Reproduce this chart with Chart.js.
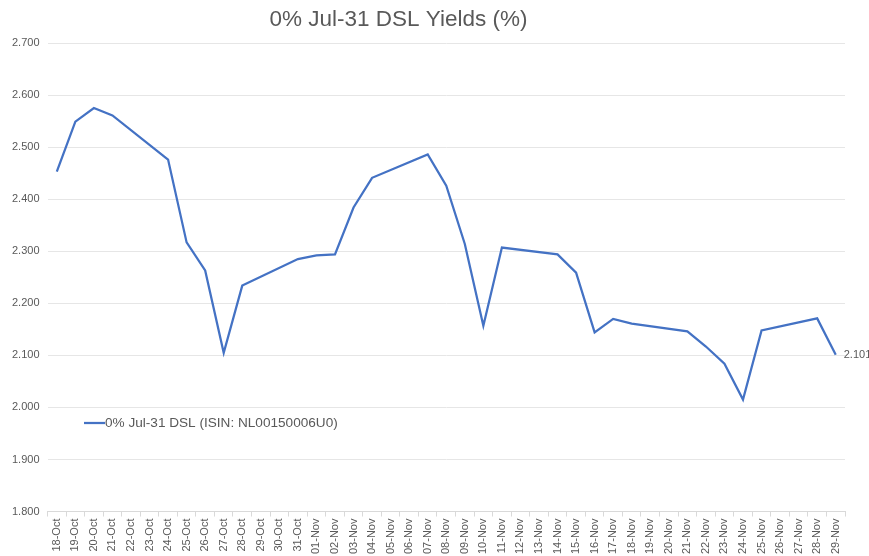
<!DOCTYPE html>
<html>
<head>
<meta charset="utf-8">
<script src="https://cdn.jsdelivr.net/npm/chart.js@4/dist/chart.umd.min.js"></script>
<style>
  html, body { margin: 0; padding: 0; background: #fff; }
  #wrap { width: 869px; height: 556px; position: relative; }
</style>
</head>
<body>
<div id="wrap"><canvas id="c" width="869" height="556"></canvas></div>
<script>
const chartTitle = "0% Jul-31 DSL Yields (%)";
const seriesName = "0% Jul-31 DSL (ISIN: NL00150006U0)";
const categories = [
  "18-Oct","19-Oct","20-Oct","21-Oct","22-Oct","23-Oct","24-Oct","25-Oct","26-Oct","27-Oct",
  "28-Oct","29-Oct","30-Oct","31-Oct","01-Nov","02-Nov","03-Nov","04-Nov","05-Nov","06-Nov",
  "07-Nov","08-Nov","09-Nov","10-Nov","11-Nov","12-Nov","13-Nov","14-Nov","15-Nov","16-Nov",
  "17-Nov","18-Nov","19-Nov","20-Nov","21-Nov","22-Nov","23-Nov","24-Nov","25-Nov","26-Nov",
  "27-Nov","28-Nov","29-Nov"
];
// weekends have no quote (null); line spans the gap
const yields = [
  2.453, 2.549, 2.575, 2.561, null, null, 2.476, 2.317, 2.263, 2.105,
  2.234, null, null, 2.285, 2.292, 2.294, 2.384, 2.441, null, null,
  2.486, 2.426, 2.314, 2.157, 2.307, null, null, 2.294, 2.259, 2.144,
  2.170, 2.161, null, null, 2.146, 2.117, 2.084, 2.015, 2.148, null,
  null, 2.171, 2.101
];
const yMin = 1.8, yMax = 2.7, yStep = 0.1;

const FONT = "'Liberation Sans', Arial, sans-serif";
const GREY = "#595959";
const LINE = "#4472C4";

const titlePlugin = {
  id: 'customTitle',
  afterDraw(chart) {
    const ctx = chart.ctx;
    ctx.save();
    ctx.font = "22.5px " + FONT;
    ctx.fillStyle = GREY;
    ctx.textAlign = "center";
    ctx.textBaseline = "middle";
    ctx.fillText(chartTitle, 398.5, 20);
    ctx.restore();
  }
};
const legendPlugin = {
  id: 'insideLegend',
  afterDraw(chart) {
    const ctx = chart.ctx;
    const ds = chart.data.datasets[0];
    ctx.save();
    ctx.strokeStyle = ds.borderColor;
    ctx.lineWidth = 2.25;
    ctx.beginPath();
    ctx.moveTo(84, 423);
    ctx.lineTo(105, 423);
    ctx.stroke();
    ctx.font = "13.6px " + FONT;
    ctx.fillStyle = GREY;
    ctx.textBaseline = "middle";
    ctx.textAlign = "left";
    ctx.fillText(ds.label, 105, 423);
    ctx.restore();
  }
};
const lastLabelPlugin = {
  id: 'lastLabel',
  afterDatasetsDraw(chart) {
    const meta = chart.getDatasetMeta(0);
    const i = yields.length - 1;
    const pt = meta.data[i];
    const ctx = chart.ctx;
    ctx.save();
    ctx.font = "11px " + FONT;
    ctx.fillStyle = GREY;
    ctx.textBaseline = "middle";
    ctx.textAlign = "left";
    ctx.fillText(yields[i].toFixed(3), pt.x + 8, pt.y);
    ctx.restore();
  }
};

new Chart(document.getElementById('c'), {
  type: 'line',
  data: {
    labels: categories,
    datasets: [{
      label: seriesName,
      data: yields,
      borderColor: LINE,
      backgroundColor: LINE,
      borderWidth: 2.25,
      pointRadius: 0,
      pointHoverRadius: 0,
      tension: 0,
      spanGaps: true,
      fill: false
    }]
  },
  options: {
    responsive: false,
    animation: false,
    devicePixelRatio: 1,
    layout: { padding: { top: 43, right: 24, left: 4, bottom: 0 } },
    plugins: {
      legend: { display: false },
      title: { display: false },
      tooltip: { enabled: false }
    },
    scales: {
      x: {
        offset: true,
        grid: {
          offset: true,
          drawOnChartArea: false,
          drawTicks: true,
          tickLength: 5,
          color: "#d9d9d9"
        },
        border: { color: "#d9d9d9" },
        ticks: {
          autoSkip: false,
          maxRotation: 90,
          minRotation: 90,
          padding: 2,
          color: GREY,
          font: { family: FONT, size: 11 }
        }
      },
      y: {
        min: yMin,
        max: yMax,
        grid: { color: "#e6e6e6", drawTicks: false },
        border: { display: false },
        ticks: {
          stepSize: yStep,
          padding: 8,
          color: GREY,
          font: { family: FONT, size: 11 },
          callback: v => Number(v).toFixed(3)
        }
      }
    }
  },
  plugins: [titlePlugin, legendPlugin, lastLabelPlugin]
});
</script>
</body>
</html>
